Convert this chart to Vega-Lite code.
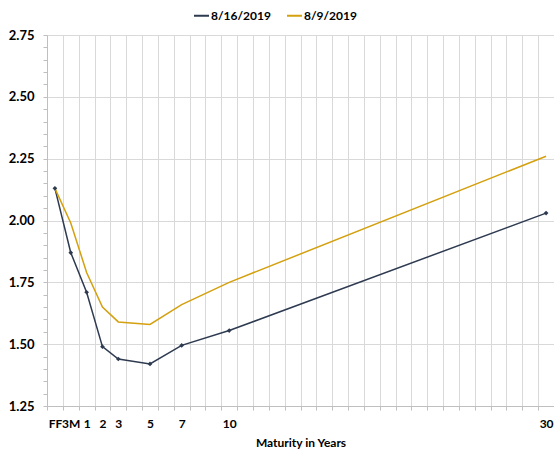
{
  "$schema": "https://vega.github.io/schema/vega-lite/v6.json",
  "width": 507,
  "height": 371,
  "autosize": "none",
  "padding": {"left": 47, "top": 35, "right": 0, "bottom": 44},
  "config": {
    "font": "Lato",
    "view": {"stroke": null},
    "axis": {"labelFont": "Lato", "titleFont": "Lato"}
  },
  "data": {
    "values": [
      {"maturity": "FF", "date": "8/16/2019", "yield": 2.13},
      {"maturity": "3M", "date": "8/16/2019", "yield": 1.87},
      {"maturity": "1", "date": "8/16/2019", "yield": 1.71},
      {"maturity": "2", "date": "8/16/2019", "yield": 1.49},
      {"maturity": "3", "date": "8/16/2019", "yield": 1.44},
      {"maturity": "5", "date": "8/16/2019", "yield": 1.42},
      {"maturity": "7", "date": "8/16/2019", "yield": 1.495},
      {"maturity": "10", "date": "8/16/2019", "yield": 1.555},
      {"maturity": "30", "date": "8/16/2019", "yield": 2.03},
      {"maturity": "FF", "date": "8/9/2019", "yield": 2.13},
      {"maturity": "3M", "date": "8/9/2019", "yield": 1.99},
      {"maturity": "1", "date": "8/9/2019", "yield": 1.79},
      {"maturity": "2", "date": "8/9/2019", "yield": 1.65},
      {"maturity": "3", "date": "8/9/2019", "yield": 1.59},
      {"maturity": "5", "date": "8/9/2019", "yield": 1.58},
      {"maturity": "7", "date": "8/9/2019", "yield": 1.66},
      {"maturity": "10", "date": "8/9/2019", "yield": 1.75},
      {"maturity": "30", "date": "8/9/2019", "yield": 2.26}
    ]
  },
  "encoding": {
    "x": {
      "field": "maturity",
      "type": "ordinal",
      "sort": null,
      "scale": {
        "type": "band",
        "paddingInner": 0,
        "paddingOuter": 0,
        "domain": ["FF","3M","1","2","3","4","5","6","7","8","9","10","11","12","13","14","15","16","17","18","19","20","21","22","23","24","25","26","27","28","29","30"]
      },
      "axis": {
        "title": "Maturity in Years",
        "titleFontSize": 12,
        "titleFontWeight": "bold",
        "titleColor": "#000000",
        "titlePadding": 8,
        "labelAngle": 0,
        "labelFontSize": 12,
        "labelFontWeight": "bold",
        "labelColor": "#000000",
        "labelOverlap": false,
        "labelPadding": 8,
        "labelExpr": "indexof(['FF','3M','1','2','3','5','7','10','30'], datum.value) >= 0 ? datum.value : ''",
        "tickBand": "extent",
        "tickSize": 4,
        "tickColor": "#BFBFBF",
        "domainColor": "#BFBFBF",
        "grid": true,
        "gridColor": "#D9D9D9",
        "gridWidth": 1
      }
    },
    "y": {
      "field": "yield",
      "type": "quantitative",
      "scale": {"domain": [1.25, 2.75], "nice": false, "zero": false},
      "axis": {
        "title": null,
        "values": [1.25,1.3,1.35,1.4,1.45,1.5,1.55,1.6,1.65,1.7,1.75,1.8,1.85,1.9,1.95,2.0,2.05,2.1,2.15,2.2,2.25,2.3,2.35,2.4,2.45,2.5,2.55,2.6,2.65,2.7,2.75],
        "labelExpr": "round(datum.value*100) % 25 == 0 ? format(datum.value, '.2f') : ''",
        "labelFontSize": 13,
        "labelFontWeight": "bold",
        "labelColor": "#000000",
        "labelOverlap": false,
        "labelPadding": 9,
        "tickSize": 4,
        "tickColor": "#BFBFBF",
        "domainColor": "#BFBFBF",
        "grid": true,
        "gridColor": "#D9D9D9",
        "gridOpacity": {"condition": {"test": "round(datum.value*100) % 25 == 0", "value": 1}, "value": 0}
      }
    }
  },
  "layer": [
    {
      "mark": {"type": "line", "strokeWidth": 1.5},
      "encoding": {
        "color": {
          "field": "date",
          "type": "nominal",
          "scale": {"domain": ["8/16/2019", "8/9/2019"], "range": ["#2E3A50", "#D4A00E"]},
          "legend": {
            "title": null,
            "orient": "none",
            "direction": "horizontal",
            "legendX": 146,
            "legendY": -28,
            "symbolType": "stroke",
            "symbolSize": 225,
            "symbolStrokeWidth": 2,
            "labelFontSize": 12,
            "labelFontWeight": "bold",
            "labelColor": "#000000",
            "labelOffset": 1,
            "columnPadding": 12
          }
        }
      }
    },
    {
      "transform": [{"filter": "datum.date == '8/16/2019'"}],
      "mark": {"type": "point", "shape": "diamond", "filled": true, "size": 22, "color": "#2E3A50", "opacity": 1}
    }
  ]
}
